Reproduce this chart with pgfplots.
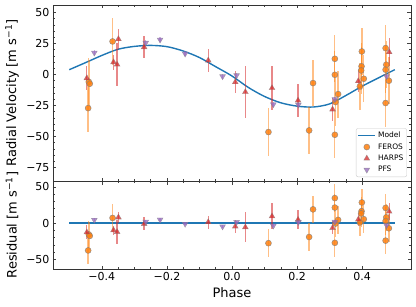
\documentclass[border=0pt]{standalone}
\usepackage{fontspec}
\setmainfont{DejaVu Sans}
\usepackage{pgfplots}
\pgfplotsset{compat=1.18}
\definecolor{mC0}{HTML}{1F77B4}
\definecolor{mC1}{HTML}{FF7F0E}
\definecolor{mC3}{HTML}{D62728}
\definecolor{mC4}{HTML}{9467BD}
\pgfplotsset{
  rvaxis/.style={
    scale only axis, width=358pt,
    xmin=-0.55, xmax=0.55,
    tick align=inside,
    major tick length=3.5pt, minor tick length=2pt,
    axis line style={black!80, line width=0.6pt},
    every tick/.style={black!75, line width=0.5pt},
    xtick={-0.4,-0.2,0,0.2,0.4},
    minor x tick num=3,
    minor y tick num=4,
    tick label style={font=\fontsize{11}{13}\selectfont},
    label style={font=\fontsize{13}{15}\selectfont},
    ylabel style={at={(axis description cs:-0.1145,0.5)}, anchor=center},
    /pgf/number format/assume math mode=true,
    clip=false,
  },
  model/.style={draw=mC0, color=mC0, line width=1.4pt, mark=none},
  feros/.style={only marks, mark=*, mark size=3pt,
    mark options={fill=mC1, fill opacity=0.85, draw=gray, draw opacity=0.8, line width=0.5pt},
    error bars/.cd, y dir=both, y explicit, error mark=none,
    error bar style={color=mC1, opacity=0.5, line width=1.3pt}},
  harps/.style={only marks, mark=triangle*, mark size=3.4pt,
    mark options={fill=mC3, fill opacity=0.75, draw=gray, draw opacity=0.6, line width=0.4pt},
    error bars/.cd, y dir=both, y explicit, error mark=none,
    error bar style={color=mC3, opacity=0.55, line width=1.3pt}},
  pfs/.style={only marks, mark=triangle*, mark size=3.4pt,
    mark options={rotate=180, fill=mC4, fill opacity=0.75, draw=gray, draw opacity=0.6, line width=0.4pt},
    error bars/.cd, y dir=both, y explicit, error mark=none,
    error bar style={color=mC4, opacity=0.5, line width=1.3pt}},
}
\begin{document}
\begin{tikzpicture}
\begin{axis}[rvaxis, name=top, height=176pt,
  ymin=-86, ymax=56,
  ytick={-75,-50,-25,0,25,50},
  yticklabels={−75,−50,−25,0,25,50},
  xticklabels={},
  ylabel={Radial Velocity [m s\textsuperscript{−1}]},
  legend style={at={(axis description cs:1,0)}, anchor=south east, xshift=-4pt, yshift=4pt,
    font=\fontsize{7.5}{9}\selectfont, draw=black!20, rounded corners=2pt,
    inner sep=1.5pt, row sep=0.3pt},
  legend cell align=left,
]
\addplot[model, smooth,
  legend image code/.code={\draw[draw=mC0, line width=1.4pt] (0cm,0cm) -- (0.6cm,0cm);}]
coordinates {
(-0.50,3.8) (-0.45,9.5) (-0.40,15.3) (-0.35,20.3) (-0.30,22.6) (-0.25,23.4)
(-0.20,22.4) (-0.15,18.9) (-0.10,13.6) (-0.05,6.2) (0.00,-1.3) (0.05,-10.5)
(0.10,-17.8) (0.15,-22.9) (0.20,-25.6) (0.25,-26.3) (0.30,-23.8) (0.35,-17.0)
(0.40,-9.5) (0.45,-2.8) (0.50,3.8)};
\addlegendentry{Model}
\addplot[feros] coordinates {
(-0.442,-27.2) +- (0,19)
(-0.440,-6.0) +- (0,19)
(-0.437,-7.5) +- (0,19)
(-0.367,26.6) +- (0,19)
(0.112,-46.5) +- (0,19)
(0.237,-45.2) +- (0,19)
(0.249,-7.0) +- (0,18.5)
(0.316,12.6) +- (0,19)
(0.316,-0.3) +- (0,19)
(0.318,-22.3) +- (0,19)
(0.316,-48.7) +- (0,19)
(0.326,-15.9) +- (0,19)
(0.399,18.5) +- (0,19)
(0.398,6.5) +- (0,19)
(0.397,3.2) +- (0,19)
(0.405,-3.5) +- (0,19)
(0.393,-9.7) +- (0,19)
(0.472,21.2) +- (0,19)
(0.474,7.8) +- (0,19)
(0.472,3.8) +- (0,19)
(0.482,-5.1) +- (0,19)
(0.472,-23.1) +- (0,19)};
\addlegendentry{FEROS}
\addplot[harps] coordinates {
(-0.446,-3.0) +- (0,9.5)
(-0.364,9.9) +- (0,6)
(-0.353,8.0) +- (0,17)
(-0.349,28.5) +- (0,8)
(-0.270,22.0) +- (0,9)
(-0.073,11.3) +- (0,9)
(0.010,-6.2) +- (0,9)
(0.041,-14.2) +- (0,21)
(0.123,-11.0) +- (0,18)
(0.203,-21.0) +- (0,13)
(0.309,-28.2) +- (0,9)
(0.388,-5.4) +- (0,9)
(0.483,18.0) +- (0,11.5)};
\addlegendentry{HARPS}
\addplot[pfs] coordinates {
(-0.423,17.5) +- (0,2)
(-0.265,25.5) +- (0,2)
(-0.221,28.0) +- (0,2)
(-0.144,16.7) +- (0,2)
(-0.029,-1.6) +- (0,2)
(0.014,-0.8) +- (0,2)
(0.127,-24.2) +- (0,2)
(0.204,-24.5) +- (0,2)
(0.316,-20.0) +- (0,2)
(0.475,-1.6) +- (0,2)};
\addlegendentry{PFS}
\end{axis}
\begin{axis}[rvaxis, name=bot, height=88pt,
  at={(top.south west)}, anchor=north west,
  ymin=-63, ymax=58,
  ytick={-50,0,50},
  yticklabels={−50,0,50},
  xticklabels={−0.4,−0.2,0.0,0.2,0.4},
  ylabel={Residual [m s\textsuperscript{−1}]},
  xlabel={Phase},
  xlabel style={at={(axis description cs:0.5,-0.27)}, anchor=center},
]
\addplot[model] coordinates {(-0.5,0) (0.5,0)};
\addplot[feros] coordinates {
(-0.442,-37.5) +- (0,19)
(-0.440,-15.5) +- (0,19)
(-0.437,-17.5) +- (0,19)
(-0.367,7.2) +- (0,19)
(0.112,-27.5) +- (0,19)
(0.237,-19.0) +- (0,19)
(0.249,19.0) +- (0,18.5)
(0.316,34.5) +- (0,19)
(0.316,21.5) +- (0,19)
(0.318,-0.5) +- (0,19)
(0.316,-27.0) +- (0,19)
(0.326,4.5) +- (0,19)
(0.399,28.5) +- (0,19)
(0.398,16.5) +- (0,19)
(0.397,13.5) +- (0,19)
(0.405,5.5) +- (0,19)
(0.393,1.0) +- (0,19)
(0.472,21.0) +- (0,19)
(0.474,8.0) +- (0,19)
(0.472,3.0) +- (0,19)
(0.482,-7.0) +- (0,19)
(0.472,-24.0) +- (0,19)};
\addplot[harps] coordinates {
(-0.446,-12.5) +- (0,9.5)
(-0.364,-9.6) +- (0,6)
(-0.353,-12.0) +- (0,17)
(-0.349,8.0) +- (0,8)
(-0.270,-1.0) +- (0,9)
(-0.073,1.5) +- (0,9)
(0.010,-4.5) +- (0,9)
(0.041,-5.5) +- (0,21)
(0.123,9.5) +- (0,18)
(0.203,4.8) +- (0,13)
(0.309,-6.5) +- (0,9)
(0.388,5.0) +- (0,9)
(0.483,16.0) +- (0,11.5)};
\addplot[pfs] coordinates {
(-0.423,4.5) +- (0,2)
(-0.265,2.0) +- (0,2)
(-0.221,4.8) +- (0,2)
(-0.144,-1.0) +- (0,2)
(-0.029,-4.6) +- (0,2)
(0.014,1.5) +- (0,2)
(0.127,-3.5) +- (0,2)
(0.204,1.5) +- (0,2)
(0.316,2.0) +- (0,2)
(0.475,-3.0) +- (0,2)};
\end{axis}
\pgfresetboundingbox
\path ([shift={(-53pt,5pt)}]top.north west) rectangle ([shift={(5pt,-37pt)}]bot.south east);
\end{tikzpicture}
\end{document}
